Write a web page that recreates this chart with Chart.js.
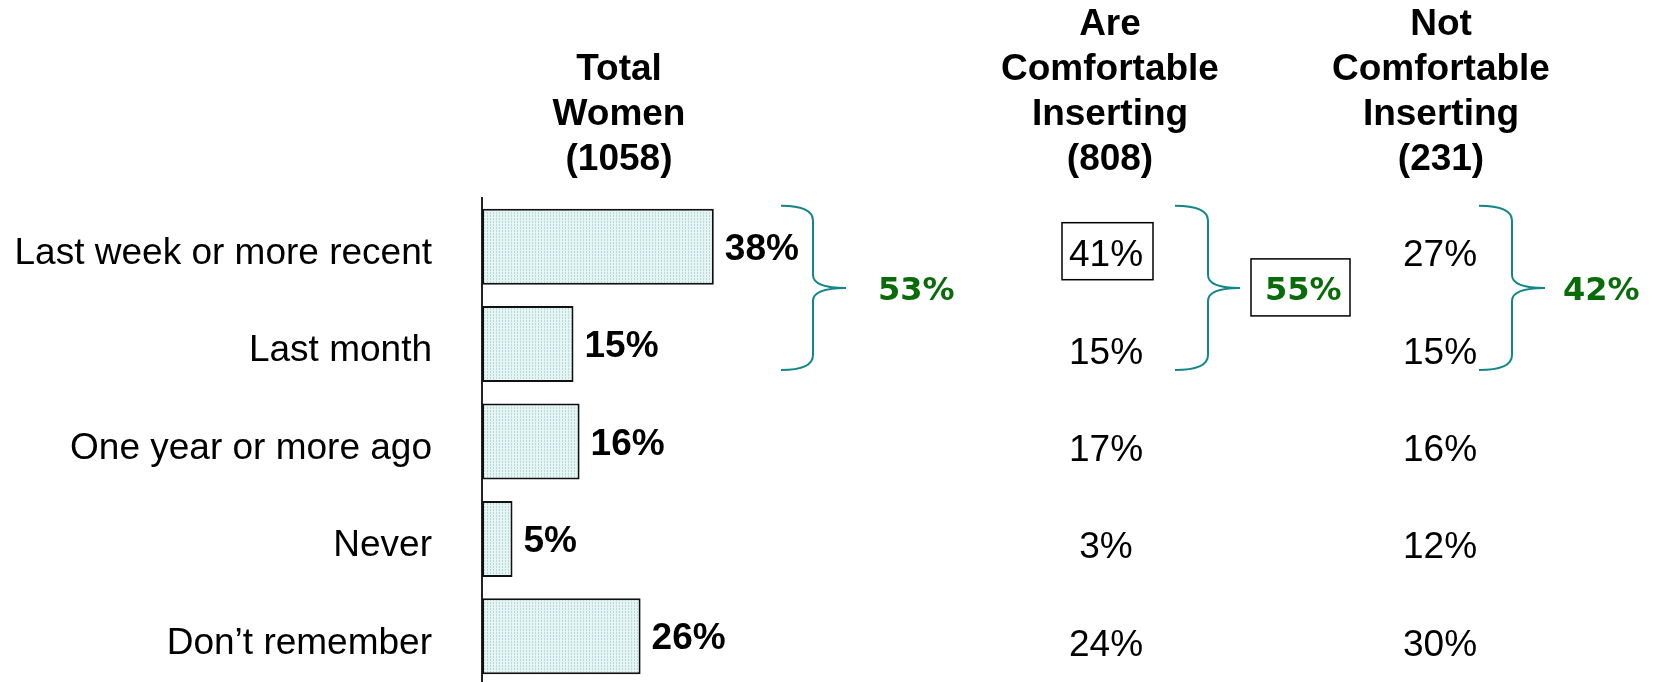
<!DOCTYPE html>
<html lang="en">
<head>
<meta charset="UTF-8" />
<title>Last time inserted</title>
<script src="https://cdn.jsdelivr.net/npm/chart.js"></script>
<style>
  html, body { margin: 0; padding: 0; overflow: hidden; background: #fff; }
  canvas { display: block; }
</style>
</head>
<body>
<canvas id="myChart" width="1660" height="700"></canvas>
<script>
const categories = ['Last week or more recent', 'Last month', 'One year or more ago', 'Never', 'Don\u2019t remember'];
const totalWomen = [38, 15, 16, 5, 26];
const comfortable = [41, 15, 17, 3, 24];
const notComfortable = [27, 15, 16, 12, 30];
const headers = [
  ['Total', 'Women', '(1058)'],
  ['Are', 'Comfortable', 'Inserting', '(808)'],
  ['Not', 'Comfortable', 'Inserting', '(231)']
];
// last week + last month, per column
const topTwo = [53, 55, 42];

const FONT = '"Liberation Sans", Arial, sans-serif';
const GREEN = '#0a6b0a';
const TEAL = '#138787';

// stippled light aqua fill like the original bars
function makePattern() {
  const c = document.createElement('canvas');
  c.width = 3; c.height = 3;
  const g = c.getContext('2d');
  g.fillStyle = '#e6f4f4';
  g.fillRect(0, 0, 3, 3);
  g.fillStyle = '#b5dada';
  g.fillRect(1, 0, 1, 1);
  g.fillRect(1, 2, 1, 1);
  return g.createPattern(c, 'repeat');
}

function brace(ctx, xTip, xMid, xPoint, top, bottom) {
  const mid = (top + bottom) / 2;
  ctx.beginPath();
  ctx.moveTo(xTip, top);
  ctx.quadraticCurveTo(xMid, top, xMid, top + 15);
  ctx.lineTo(xMid, mid - 13);
  ctx.quadraticCurveTo(xMid, mid, xPoint, mid);
  ctx.quadraticCurveTo(xMid, mid, xMid, mid + 13);
  ctx.lineTo(xMid, bottom - 15);
  ctx.quadraticCurveTo(xMid, bottom, xTip, bottom);
  ctx.stroke();
  return mid;
}

const barLabels = {
  id: 'barLabels',
  afterDatasetsDraw(chart) {
    const ctx = chart.ctx;
    const meta = chart.getDatasetMeta(0);
    ctx.save();
    ctx.font = 'bold 37px ' + FONT;
    ctx.fillStyle = '#000';
    ctx.textAlign = 'left';
    ctx.textBaseline = 'alphabetic';
    meta.data.forEach((bar, i) => {
      ctx.fillText(totalWomen[i] + '%', bar.x + 11, bar.y + 13);
    });
    ctx.restore();
  }
};

const tableText = {
  id: 'tableText',
  afterDraw(chart) {
    const ctx = chart.ctx;
    const y = chart.scales.y;
    const colX = [619, 1110, 1441];
    const valX = [null, 1106, 1440];
    ctx.save();

    // column headers, bottom aligned
    ctx.font = 'bold 37px ' + FONT;
    ctx.fillStyle = '#000';
    ctx.textAlign = 'center';
    ctx.textBaseline = 'alphabetic';
    headers.forEach((lines, c) => {
      const n = lines.length;
      lines.forEach((t, k) => {
        ctx.fillText(t, colX[c], 170 - (n - 1 - k) * 45);
      });
    });

    // plain number columns
    ctx.font = '37px ' + FONT;
    categories.forEach((cat, i) => {
      const py = y.getPixelForValue(i) + 19.5;
      ctx.fillText(comfortable[i] + '%', valX[1], py);
      ctx.fillText(notComfortable[i] + '%', valX[2], py);
    });

    // box around 41%
    const y0 = y.getPixelForValue(0);
    const y1 = y.getPixelForValue(1);
    ctx.strokeStyle = '#000';
    ctx.lineWidth = 1.5;
    ctx.strokeRect(1062, y0 - 24, 91, 57);

    // braces and nets
    const top = y0 - 41, bottom = y1 + 26;
    const braceX = [[781, 813, 846, 878], [1175, 1208, 1240, 1265], [1479, 1512, 1545, 1563]];
    ctx.font = 'bold 32px "DejaVu Sans", Verdana, sans-serif';
    ctx.textAlign = 'left';
    braceX.forEach((b, c) => {
      ctx.strokeStyle = TEAL;
      ctx.lineWidth = 2;
      const mid = brace(ctx, b[0], b[1], b[2], top, bottom);
      ctx.fillStyle = GREEN;
      ctx.fillText(topTwo[c] + '%', b[3], mid + 12);
      if (c === 1) {
        ctx.strokeStyle = '#000';
        ctx.lineWidth = 1.5;
        ctx.strokeRect(1251, mid - 29, 99, 57);
      }
    });
    ctx.restore();
  }
};

const ctx = document.getElementById('myChart').getContext('2d');
new Chart(ctx, {
  type: 'bar',
  data: {
    labels: categories,
    datasets: [{
      label: 'Total Women',
      data: totalWomen,
      backgroundColor: makePattern(),
      borderColor: '#111',
      borderWidth: 2,
      borderSkipped: false,
      categoryPercentage: 1,
      barPercentage: 0.78
    }]
  },
  options: {
    indexAxis: 'y',
    responsive: false,
    animation: false,
    layout: { padding: { left: 0, top: 198, right: 568, bottom: 15 } },
    plugins: { legend: { display: false }, tooltip: { enabled: false } },
    scales: {
      x: { display: false, min: 0, max: 100 },
      y: {
        afterFit(scale) {
          scale.width = 482;
          scale.paddingTop = 0;
          scale.paddingBottom = 0;
        },
        grid: { display: false, drawTicks: false },
        border: { display: true, color: '#222', width: 2 },
        ticks: {
          color: '#000',
          padding: 50,
          labelOffset: 7,
          font: { family: FONT, size: 37 }
        }
      }
    }
  },
  plugins: [barLabels, tableText]
});
</script>
</body>
</html>
